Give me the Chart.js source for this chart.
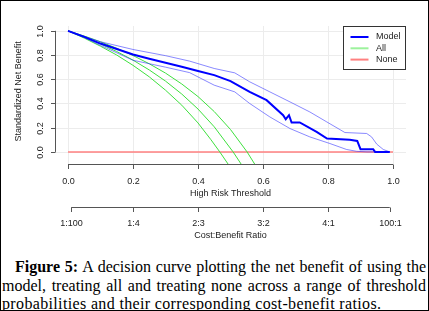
<!DOCTYPE html>
<html>
<head>
<meta charset="utf-8">
<script src="https://cdn.jsdelivr.net/npm/chart.js@4.4.0/dist/chart.umd.min.js"></script>
<style>
  html, body { margin: 0; padding: 0; background: #fff; }
  #page { position: relative; width: 429px; height: 311px; overflow: hidden; background: #fff; }
  #curve { position: absolute; left: 0; top: 0; }
  #frame { position: absolute; left: 0; top: 0; width: 429px; height: 311px; box-sizing: border-box; border: 1px solid #000; pointer-events: none; }
  #caption {
    position: absolute; left: 2px; top: 258px; width: 424px;
    font-family: "Liberation Serif", "Times New Roman", serif; font-size: 16px; line-height: 18.5px;
    color: #000;
  }
  #caption div { white-space: nowrap; }
  #caption .full { text-align: justify; text-align-last: justify; }
  #caption .first { padding-left: 13px; }
  #caption .last { letter-spacing: 0.35px; }
</style>
</head>
<body>
<div id="page">
  <canvas id="curve" width="429" height="250"></canvas>
  <div id="caption">
    <div class="full first"><b>Figure 5:</b> A decision curve plotting the net benefit of using the</div>
    <div class="full">model, treating all and treating none across a range of threshold</div>
    <div class="last">probabilities and their corresponding cost-benefit ratios.</div>
  </div>
  <div id="frame"></div>
</div>
<script>
// model net benefit (thick blue) and its bootstrap band (thin blue)
const modelThreshold = [0, 0.05, 0.1, 0.15, 0.2, 0.25, 0.3, 0.35, 0.4, 0.45, 0.5, 0.559, 0.611, 0.662, 0.670, 0.680, 0.688, 0.713, 0.765, 0.797, 0.867, 0.89, 0.90, 0.939, 0.945, 0.99];
const modelBenefit   = [1.0, 0.95, 0.895, 0.85, 0.805, 0.77, 0.737, 0.703, 0.668, 0.634, 0.585, 0.496, 0.427, 0.303, 0.27, 0.303, 0.243, 0.243, 0.165, 0.11, 0.10, 0.09, 0.022, 0.022, 0, 0];

const upperThreshold = [0, 0.05, 0.1, 0.2, 0.3, 0.374, 0.45, 0.513, 0.559, 0.621, 0.683, 0.744, 0.796, 0.852, 0.919, 0.934, 0.95, 0.97, 0.99];
const upperBenefit   = [1.0, 0.955, 0.91, 0.846, 0.795, 0.75, 0.689, 0.653, 0.579, 0.496, 0.413, 0.33, 0.248, 0.16, 0.152, 0.124, 0.064, 0.02, 0];

const lowerThreshold = [0, 0.05, 0.1, 0.2, 0.3, 0.374, 0.45, 0.513, 0.559, 0.621, 0.683, 0.744, 0.806, 0.857, 0.888, 0.92, 0.99];
const lowerBenefit   = [1.0, 0.945, 0.88, 0.757, 0.70, 0.655, 0.551, 0.496, 0.40, 0.289, 0.193, 0.124, 0.069, 0.02, 0.005, 0, 0];

// treat all (three green curves)
const allLowThreshold  = [0, 0.05, 0.1, 0.15, 0.2, 0.25, 0.3, 0.35, 0.4, 0.44, 0.467, 0.495];
const allLowBenefit    = [1, 0.94, 0.873, 0.80, 0.715, 0.62, 0.51, 0.386, 0.239, 0.10, 0, -0.11];
const allMidThreshold  = [0, 0.05, 0.1, 0.15, 0.2, 0.25, 0.3, 0.35, 0.4, 0.45, 0.508, 0.535];
const allMidBenefit    = [1, 0.949, 0.892, 0.829, 0.758, 0.677, 0.585, 0.478, 0.354, 0.207, 0, -0.11];
const allHighThreshold = [0, 0.05, 0.1, 0.15, 0.2, 0.25, 0.3, 0.35, 0.4, 0.45, 0.5, 0.551, 0.578];
const allHighBenefit   = [1, 0.957, 0.909, 0.856, 0.796, 0.728, 0.651, 0.561, 0.457, 0.333, 0.185, 0, -0.116];

// treat none
const noneThreshold = [0, 1];
const noneBenefit   = [0, 0];

// axes
const xTicks = [0, 0.2, 0.4, 0.6, 0.8, 1.0];
const xTickLabels = ['0.0', '0.2', '0.4', '0.6', '0.8', '1.0'];
const yTicks = [0, 0.2, 0.4, 0.6, 0.8, 1.0];
const yTickLabels = ['0.0', '0.2', '0.4', '0.6', '0.8', '1.0'];
const costTicks = [0.01, 0.2, 0.4, 0.6, 0.8, 0.99];
const costLabels = ['1:100', '1:4', '2:3', '3:2', '4:1', '100:1'];
const legendLabels = ['Model', 'All', 'None'];

const pairs = (xs, ys) => xs.map((x, i) => ({ x: x, y: ys[i] }));

const BLUE = '#0000FF';
const BAND = 'rgba(40,40,255,0.55)';
const GREEN = '#3ee03e';
const RED = '#ff8080';
const legendColors = [BLUE, '#9cf29c', RED];

const line = (data, color, width) => ({
  data: data, borderColor: color, borderWidth: width,
  pointRadius: 0, tension: 0, fill: false
});

// grid, R style axes and legend, all placed through the chart scales
const rStyle = {
  id: 'rStyle',
  beforeDatasetsDraw(chart) {
    const { ctx, chartArea: a, scales: { x, y } } = chart;
    ctx.save();
    ctx.strokeStyle = '#ececec';
    ctx.lineWidth = 1;
    xTicks.forEach(v => {
      const px = Math.round(x.getPixelForValue(v)) + 0.5;
      ctx.beginPath(); ctx.moveTo(px, a.top); ctx.lineTo(px, a.bottom); ctx.stroke();
    });
    yTicks.forEach(v => {
      const py = Math.round(y.getPixelForValue(v)) + 0.5;
      ctx.beginPath(); ctx.moveTo(a.left, py); ctx.lineTo(a.right, py); ctx.stroke();
    });
    ctx.restore();
  },
  afterDraw(chart) {
    const { ctx, chartArea: a, scales: { x, y } } = chart;
    ctx.save();
    ctx.strokeStyle = '#555';
    ctx.fillStyle = '#222';
    ctx.lineWidth = 1;
    ctx.font = '9px "Liberation Sans", Arial, sans-serif';

    // bottom axis: threshold
    const xb = Math.round(a.bottom) + 0.5;
    ctx.beginPath();
    ctx.moveTo(x.getPixelForValue(xTicks[0]), xb);
    ctx.lineTo(x.getPixelForValue(xTicks[xTicks.length - 1]), xb);
    ctx.stroke();
    ctx.textAlign = 'center';
    ctx.textBaseline = 'middle';
    xTicks.forEach((v, i) => {
      const px = Math.round(x.getPixelForValue(v)) + 0.5;
      ctx.beginPath(); ctx.moveTo(px, xb); ctx.lineTo(px, xb + 4.5); ctx.stroke();
      ctx.fillText(xTickLabels[i], px, xb + 17);
    });
    ctx.fillText('High Risk Threshold', x.getPixelForValue(0.5), xb + 29);

    // second axis: cost benefit ratio
    const cb = xb + 43;
    ctx.beginPath();
    ctx.moveTo(x.getPixelForValue(costTicks[0]), cb);
    ctx.lineTo(x.getPixelForValue(costTicks[costTicks.length - 1]), cb);
    ctx.stroke();
    costTicks.forEach((v, i) => {
      const px = Math.round(x.getPixelForValue(v)) + 0.5;
      ctx.beginPath(); ctx.moveTo(px, cb); ctx.lineTo(px, cb + 4.5); ctx.stroke();
      ctx.fillText(costLabels[i], px, cb + 16.5);
    });
    ctx.fillText('Cost:Benefit Ratio', x.getPixelForValue(0.5), cb + 28.5);

    // left axis
    const yl = Math.round(a.left) + 0.5;
    ctx.beginPath();
    ctx.moveTo(yl, y.getPixelForValue(yTicks[0]));
    ctx.lineTo(yl, y.getPixelForValue(yTicks[yTicks.length - 1]));
    ctx.stroke();
    yTicks.forEach((v, i) => {
      const py = Math.round(y.getPixelForValue(v)) + 0.5;
      ctx.beginPath(); ctx.moveTo(yl, py); ctx.lineTo(yl - 4.5, py); ctx.stroke();
      ctx.save();
      ctx.translate(yl - 15, py);
      ctx.rotate(-Math.PI / 2);
      ctx.fillText(yTickLabels[i], 0, 0);
      ctx.restore();
    });
    ctx.save();
    ctx.translate(yl - 37, y.getPixelForValue(0.5));
    ctx.rotate(-Math.PI / 2);
    ctx.fillText('Standardized Net Benefit', 0, 0);
    ctx.restore();

    // legend box, top right
    const bx = 343.5, by = 26.5, bw = 62, bh = 43;
    ctx.fillStyle = '#fff';
    ctx.fillRect(bx, by, bw, bh);
    ctx.strokeStyle = '#333';
    ctx.strokeRect(bx, by, bw, bh);
    ctx.textAlign = 'left';
    legendLabels.forEach((lab, i) => {
      const ly = by + 10.5 + i * 11.3;
      ctx.strokeStyle = legendColors[i];
      ctx.lineWidth = 2;
      ctx.beginPath(); ctx.moveTo(bx + 7, ly); ctx.lineTo(bx + 25, ly); ctx.stroke();
      ctx.fillStyle = '#222';
      ctx.fillText(lab, bx + 32.5, ly);
    });
    ctx.restore();
  }
};

new Chart(document.getElementById('curve'), {
  type: 'line',
  data: {
    datasets: [
      line(pairs(modelThreshold, modelBenefit), BLUE, 2),
      line(pairs(upperThreshold, upperBenefit), BAND, 1),
      line(pairs(lowerThreshold, lowerBenefit), BAND, 1),
      line(pairs(allLowThreshold, allLowBenefit), GREEN, 1),
      line(pairs(allMidThreshold, allMidBenefit), GREEN, 1),
      line(pairs(allHighThreshold, allHighBenefit), GREEN, 1),
      line(pairs(noneThreshold, noneBenefit), RED, 1.5)
    ]
  },
  options: {
    responsive: false,
    animation: false,
    devicePixelRatio: 1,
    layout: { padding: { left: 55, right: 23, top: 26, bottom: 86 } },
    plugins: { legend: { display: false }, tooltip: { enabled: false } },
    scales: {
      x: { type: 'linear', min: -0.04, max: 1.04, display: false },
      y: { type: 'linear', min: -0.1, max: 1.04, display: false }
    }
  },
  plugins: [rStyle]
});
</script>
</body>
</html>
